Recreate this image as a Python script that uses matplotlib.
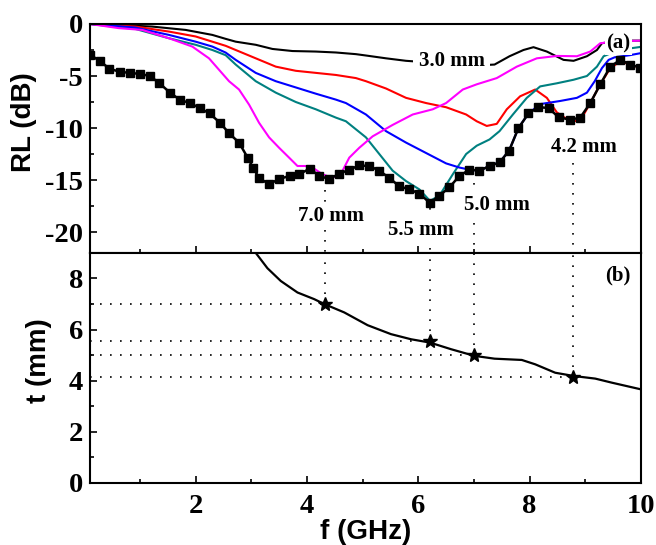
import matplotlib
matplotlib.use("Agg")
import matplotlib.pyplot as plt
from matplotlib.ticker import MultipleLocator

plt.rcParams['axes.unicode_minus'] = False

# RL curves for single thicknesses (f in GHz, RL in dB)
f_30 = [0.1, 0.62, 1.22, 1.82, 2.30, 2.54, 2.72, 3.08, 3.38, 3.74, 4.16, 4.52, 4.88, 5.06, 5.42, 5.78,
        6.2, 6.6, 7.0, 7.37, 7.64, 7.89, 8.07, 8.31, 8.61, 8.79, 9.03, 9.21, 9.30, 9.6, 10.0]
rl_30 = [0, -0.1, -0.25, -0.57, -1.05, -1.43, -1.7, -2.0, -2.4, -2.6, -2.65, -2.74, -2.9, -3.03, -3.3, -3.54,
         -3.7, -3.8, -4.0, -3.9, -3.1, -2.5, -2.23, -2.65, -3.45, -3.54, -3.1, -2.5, -1.85, -1.6, -1.6]

f_42 = [0.1, 0.92, 1.52, 2.0, 2.30, 2.54, 2.72, 3.08, 3.44, 3.80, 4.16, 4.52, 4.88, 5.06, 5.42, 5.78, 6.14,
        6.50, 6.86, 7.05, 7.23, 7.41, 7.59, 7.83, 8.10, 8.31, 8.49, 8.73, 8.91, 9.09, 9.27, 9.45, 9.63, 9.81, 10.0]
rl_42 = [0, -0.25, -0.73, -1.2, -1.7, -2.1, -2.5, -3.3, -4.1, -4.5, -4.7, -4.9, -5.2, -5.5, -6.2, -7.1, -7.6,
         -8.0, -8.7, -9.35, -9.8, -9.6, -8.2, -6.95, -6.3, -7.1, -8.5, -9.35, -9.3, -7.6, -5.8, -4.25, -3.6, -3.9, -4.24]

f_50 = [0.1, 0.92, 1.52, 2.0, 2.30, 2.54, 2.72, 3.08, 3.44, 3.80, 4.16, 4.52, 4.70, 5.06, 5.42, 5.78, 6.14,
        6.50, 6.74, 6.92, 7.10, 7.28, 7.46, 7.63, 7.80, 7.98, 8.19, 8.55, 8.85, 9.03, 9.17, 9.30, 9.42, 9.53, 9.8, 10.0]
rl_50 = [0, -0.35, -1.05, -1.7, -2.17, -2.75, -3.45, -4.7, -5.5, -6.1, -6.7, -7.27, -7.6, -8.7, -10.3, -11.4, -12.4,
         -13.4, -13.8, -14.0, -14.1, -13.65, -13.3, -12.2, -10.0, -8.6, -7.7, -7.4, -7.1, -6.6, -5.5, -4.24, -3.45, -3.2, -3.0, -2.8]

f_55 = [0.1, 0.92, 1.52, 2.0, 2.30, 2.54, 2.72, 3.08, 3.44, 3.80, 4.16, 4.52, 4.70, 5.06, 5.30, 5.54, 5.78,
        6.02, 6.21, 6.38, 6.62, 6.86, 7.05, 7.28, 7.46, 7.70, 7.95, 8.19, 8.49, 8.79, 9.03, 9.21, 9.33, 9.6, 10.0]
rl_55 = [0, -0.48, -1.37, -2.0, -2.5, -3.0, -3.9, -5.5, -6.6, -7.5, -8.2, -9.0, -9.35, -10.9, -12.5, -14.1, -15.1,
         -15.9, -17.0, -16.5, -14.45, -12.5, -11.7, -11.1, -10.3, -8.7, -7.1, -6.0, -5.7, -5.36, -5.0, -4.1, -3.1, -2.5, -2.2]

f_70 = [0.1, 0.62, 1.04, 1.52, 1.94, 2.24, 2.42, 2.60, 2.78, 2.96, 3.14, 3.32, 3.50, 3.68, 3.83, 3.98, 4.10,
        4.28, 4.46, 4.64, 4.76, 4.94, 5.18, 5.54, 5.90, 6.26, 6.50, 6.80, 7.05, 7.41, 7.77, 8.13, 8.49, 8.85,
        9.09, 9.27, 9.6, 10.0]
rl_70 = [0, -0.4, -0.57, -1.37, -2.17, -3.3, -4.4, -5.5, -6.3, -7.75, -9.5, -10.9, -11.9, -12.85, -13.65, -13.65, -13.8,
         -14.45, -14.8, -14.1, -12.85, -11.9, -10.8, -9.7, -8.7, -8.2, -7.6, -6.3, -5.8, -5.2, -4.1, -3.3, -3.07, -3.1,
         -2.65, -1.85, -1.65, -1.6]

# RL at matching thickness (black squares)
f_match = [0.11, 0.29, 0.45, 0.64, 0.82, 1.0, 1.18, 1.35, 1.54, 1.72, 1.90, 2.08, 2.25, 2.44, 2.60, 2.78, 2.94,
           3.03, 3.14, 3.32, 3.50, 3.69, 3.86, 4.05, 4.22, 4.40, 4.58, 4.76, 4.94, 5.12, 5.30, 5.48, 5.66, 5.84,
           6.02, 6.21, 6.38, 6.56, 6.74, 6.92, 7.10, 7.28, 7.46, 7.63, 7.80, 7.98, 8.16, 8.34, 8.52, 8.73, 8.91,
           9.09, 9.27, 9.45, 9.63, 9.81, 9.99]
rl_match = [-2.97, -3.6, -4.3, -4.6, -4.7, -4.8, -5.0, -5.7, -6.6, -7.3, -7.6, -8.1, -8.6, -9.5, -10.5, -11.4, -12.9,
            -13.8, -14.8, -15.4, -14.9, -14.6, -14.45, -13.9, -14.6, -14.9, -14.4, -14.0, -13.6, -13.65, -14.1, -14.8,
            -15.6, -15.9, -16.3, -17.2, -16.5, -15.7, -14.6, -14.0, -14.1, -13.65, -13.3, -12.2, -10.0, -8.6, -8.0,
            -8.07, -8.96, -9.2, -9.0, -7.6, -5.8, -4.1, -3.45, -3.9, -4.2]

# matching thickness vs frequency
f_t = [3.06, 3.08, 3.29, 3.53, 3.83, 4.13, 4.32, 4.67, 5.09, 5.51, 5.87, 6.21, 6.59, 7.01, 7.37, 7.86, 8.10,
       8.46, 8.80, 9.18, 9.48, 10.0]
t_t = [9.05, 9.0, 8.4, 7.9, 7.45, 7.19, 6.99, 6.67, 6.17, 5.82, 5.62, 5.49, 5.23, 4.97, 4.86, 4.81, 4.64,
       4.31, 4.18, 4.08, 3.92, 3.66]

# marked thicknesses
mark_labels = ['7.0 mm', '5.5 mm', '5.0 mm', '4.2 mm']
mark_f = [4.32, 6.21, 7.01, 8.78]
mark_t = [7.0, 5.55, 5.0, 4.15]
mark_rl_top = [-16.0, -17.7, -15.3, -13.4]
mark_text_pos = [(4.44, -18.5), (6.04, -19.8), (7.42, -17.4), (8.97, -11.8)]

serif = 'Liberation Serif'
sans = 'Liberation Sans'
dots = (0, (1, 5))

fig = plt.figure(figsize=(6.56, 5.45), dpi=100)
ax1 = fig.add_axes([0.137, 0.536, 0.840, 0.420])
ax2 = fig.add_axes([0.137, 0.114, 0.840, 0.422], sharex=ax1)

ax1.plot(f_30, rl_30, color='black', lw=1.5)
ax1.plot(f_42, rl_42, color='#ff0000', lw=1.5)
ax1.plot(f_55, rl_55, color='#008080', lw=1.5)
ax1.plot(f_50, rl_50, color='#0000ff', lw=1.5)
ax1.plot(f_70, rl_70, color='#ff00ff', lw=1.5)
ax1.plot(f_match, rl_match, color='black', lw=1.8, marker='s', markersize=5.5)

for xv, y0 in zip(mark_f, mark_rl_top):
    ax1.plot([xv, xv], [y0, -22], color='black', lw=1.2, ls=dots)

box = dict(facecolor='white', edgecolor='none', pad=1.5)
for lab, (xv, yv) in zip(mark_labels, mark_text_pos):
    ax1.text(xv, yv, lab, ha='center', va='center', fontsize=15, fontweight='bold',
             family=serif, bbox=box, zorder=5)
ax1.text(6.6, -3.6, '3.0 mm', ha='center', va='center', fontsize=15, fontweight='bold',
         family=serif, bbox=dict(facecolor='white', edgecolor='none', pad=4), zorder=5)
ax1.text(9.6, -1.85, '(a)', ha='center', va='center', fontsize=15, fontweight='bold',
         family=serif, bbox=dict(facecolor='white', edgecolor='none', pad=1), zorder=5)

ax2.plot(f_t, t_t, color='black', lw=1.6)
ax2.plot(mark_f, mark_t, ls='none', marker='*', color='black', markersize=10)
for xv, tv in zip(mark_f, mark_t):
    ax2.plot([xv, xv], [tv, 9], color='black', lw=1.2, ls=dots)
    ax2.plot([0.1, xv], [tv, tv], color='black', lw=1.2, ls=dots)
ax2.text(9.58, 8.1, '(b)', ha='center', va='center', fontsize=15, fontweight='bold', family=serif)

ax1.set_xlim(0.1, 10)
ax1.set_ylim(-22, 0)
ax2.set_ylim(0, 9)

ax1.yaxis.set_major_locator(MultipleLocator(5))
ax1.yaxis.set_minor_locator(MultipleLocator(2.5))
ax2.yaxis.set_major_locator(MultipleLocator(2))
ax2.yaxis.set_minor_locator(MultipleLocator(1))
ax2.xaxis.set_major_locator(MultipleLocator(2))
ax2.xaxis.set_minor_locator(MultipleLocator(1))

for ax in (ax1, ax2):
    for s in ax.spines.values():
        s.set_linewidth(1.5)
    ax.tick_params(which='both', direction='in', width=1.2, top=False, right=False)
    ax.tick_params(which='major', length=5)
    ax.tick_params(which='minor', length=3)
    for lbl in ax.get_xticklabels() + ax.get_yticklabels():
        lbl.set_family(serif)
        lbl.set_fontweight('bold')
        lbl.set_fontsize(20.5)
ax1.tick_params(labelbottom=False, pad=5)
ax2.tick_params(axis='y', pad=5)
ax2.tick_params(axis='x', pad=8)

ax1.set_ylabel('RL (dB)', family=sans, fontweight='bold', fontsize=20)
ax1.yaxis.set_label_coords(-0.096, 0.57)
ax2.set_ylabel('t (mm)', family=sans, fontweight='bold', fontsize=20)
ax2.yaxis.set_label_coords(-0.069, 0.53)
ax2.set_xlabel('f (GHz)', family=sans, fontweight='bold', fontsize=20)
ax2.xaxis.set_label_coords(0.5, -0.155)

fig.savefig('out.png', dpi=100)
